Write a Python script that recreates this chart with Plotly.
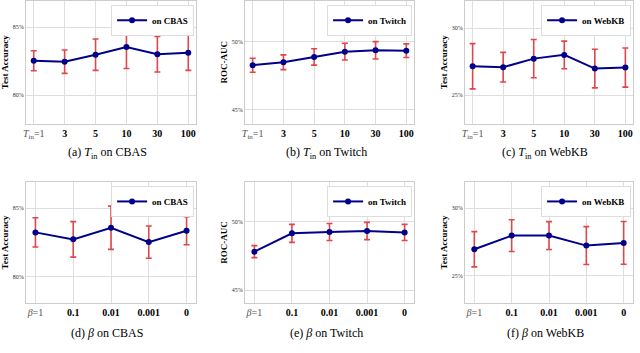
import plotly.graph_objects as go

# подписи осей X
t_in_labels = ['<span style="color:#555"><i>T</i><sub>in</sub>=1</span>', '<b>3</b>', '<b>5</b>', '<b>10</b>', '<b>30</b>', '<b>100</b>']
beta_labels = ['<span style="color:#555"><i>β</i>=1</span>', '<b>0.1</b>', '<b>0.01</b>', '<b>0.001</b>', '<b>0</b>']

# T_in
cbas_tin = [82.53, 82.46, 82.98, 83.55, 83.01, 83.12]
cbas_tin_err = [0.74, 0.86, 1.16, 1.59, 1.31, 1.30]
twitch_tin = [48.25, 48.47, 48.86, 49.25, 49.35, 49.32]
twitch_tin_err = [0.51, 0.54, 0.60, 0.62, 0.64, 0.50]
webkb_tin = [27.16, 27.09, 27.73, 28.01, 26.99, 27.06]
webkb_tin_err = [1.69, 1.11, 1.43, 1.03, 1.44, 1.46]

# beta
cbas_beta = [83.24, 82.73, 83.58, 82.53, 83.36]
cbas_beta_err = [1.07, 1.30, 1.58, 1.18, 1.02]
twitch_beta = [47.81, 49.15, 49.25, 49.32, 49.22]
twitch_beta_err = [0.44, 0.66, 0.62, 0.63, 0.59]
webkb_beta = [26.97, 27.98, 27.98, 27.24, 27.44]
webkb_beta_err = [1.30, 1.17, 1.03, 1.40, 1.58]

W, H = 640, 353
FONT = "'Liberation Serif', 'Times New Roman', serif"

panels = [
    # labels, values, errors, name, ytitle, yrange, caption
    (t_in_labels, cbas_tin, cbas_tin_err, 'on CBAS', 'Test Accuracy', [77.86, 86.98], '(a) <i>T</i><sub>in</sub> on CBAS'),
    (t_in_labels, twitch_tin, twitch_tin_err, 'on Twitch', 'ROC-AUC', [43.93, 53.01], '(b) <i>T</i><sub>in</sub> on Twitch'),
    (t_in_labels, webkb_tin, webkb_tin_err, 'on WebKB', 'Test Accuracy', [22.85, 32.07], '(c) <i>T</i><sub>in</sub> on WebKB'),
    (beta_labels, cbas_beta, cbas_beta_err, 'on CBAS', 'Test Accuracy', [78.05, 86.95], '(d) <i>β</i> on CBAS'),
    (beta_labels, twitch_beta, twitch_beta_err, 'on Twitch', 'ROC-AUC', [44.03, 52.93], '(e) <i>β</i> on Twitch'),
    (beta_labels, webkb_beta, webkb_beta_err, 'on WebKB', 'Test Accuracy', [22.98, 31.96], '(f) <i>β</i> on WebKB'),
]

# области графиков в пикселях
col_px = [(26, 196), (245, 414), (465, 633)]
row_px = [(0.5, 124), (181.7, 303.3)]
cap_x = [107, 326, 545]
cap_y = [153, 333]

fig = go.Figure()
layout = dict(width=W, height=H, margin=dict(l=0, r=0, t=0, b=0, autoexpand=False),
              plot_bgcolor='white', paper_bgcolor='white', showlegend=True,
              font=dict(family=FONT, color='black'))
annotations = []

for i, (labels, vals, errs, name, ytitle, yr, cap) in enumerate(panels):
    r, c = divmod(i, 3)
    n = i + 1
    xa = 'x' if n == 1 else f'x{n}'
    ya = 'y' if n == 1 else f'y{n}'
    lg = 'legend' if n == 1 else f'legend{n}'
    x0, x1 = col_px[c]
    y0, y1 = row_px[r]
    xs = list(range(len(labels)))

    fig.add_trace(go.Scatter(
        x=xs, y=vals, name='<b>' + name + '</b>', mode='lines+markers', xaxis=xa, yaxis=ya, legend=lg,
        line=dict(color='#00008b', width=2), marker=dict(size=6, color='#00008b'),
        error_y=dict(type='data', array=errs, color='#e0474c', thickness=1.6, width=3)))

    layout['xaxis' if n == 1 else f'xaxis{n}'] = dict(
        domain=[x0 / W, x1 / W], anchor=ya, range=[-0.25, len(labels) - 0.75],
        tickvals=xs, ticktext=labels, showgrid=True, gridcolor='#dedede', gridwidth=1,
        showline=True, linecolor='#cccccc', mirror=True, zeroline=False, ticks='',
        automargin=False, tickfont=dict(size=10, family=FONT, color='black'))
    layout['yaxis' if n == 1 else f'yaxis{n}'] = dict(
        domain=[1 - y1 / H, 1 - y0 / H], anchor=xa, range=yr, dtick=5, tick0=0,
        ticksuffix='%', showgrid=True, gridcolor='#dedede', gridwidth=1,
        showline=True, linecolor='#cccccc', mirror=True, zeroline=False, ticks='',
        automargin=False, tickfont=dict(size=6, family=FONT, color='#333'),
        title=dict(text='<b>' + ytitle + '</b>', font=dict(size=9, family=FONT), standoff=2))
    layout[lg] = dict(x=x1 / W - 0.003, y=1 - y0 / H - 0.012, xanchor='right', yanchor='top',
                      bgcolor='white', bordercolor='#dddddd', borderwidth=1,
                      font=dict(size=9, family=FONT, color='black'),
                      itemwidth=30, tracegroupgap=0)
    annotations.append(dict(text=cap, x=cap_x[c] / W, y=1 - cap_y[r] / H, xref='paper', yref='paper',
                            xanchor='center', yanchor='middle',
                            showarrow=False, font=dict(size=12, family=FONT, color='black')))

annotations.append(dict(
    text='<b>Figure 2:</b> The effects of hyperparameters <i>T</i><sub>in</sub> (the number of gradient flow) and <i>β</i> (the coefficient of f',
    x=18 / W, y=1 - 348 / H, xref='paper', yref='paper', xanchor='left', yanchor='top',
    showarrow=False, font=dict(size=13, family=FONT, color='black')))

layout['annotations'] = annotations
fig.update_layout(**layout)

# убрать отступ body, чтобы рисунок начинался с угла окна
fig.write_html("out.html", config={'displayModeBar': False},
               post_script="document.body.style.margin='0';document.body.style.overflow='hidden';")
